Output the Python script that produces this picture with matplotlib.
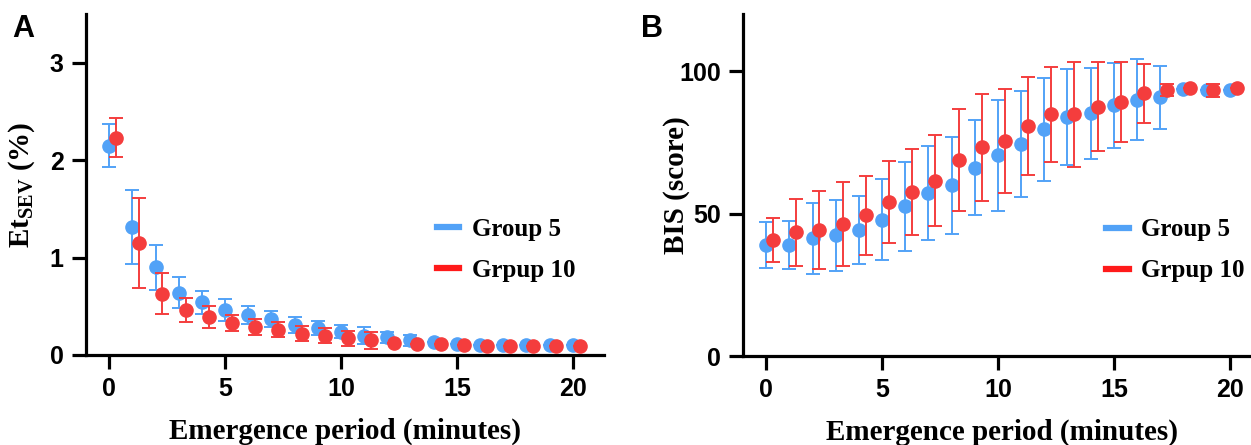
import numpy as np
import matplotlib
matplotlib.use('Agg')
import matplotlib.pyplot as plt
from matplotlib.lines import Line2D

plt.rcParams['mathtext.fontset'] = 'custom'
plt.rcParams['mathtext.rm'] = 'Liberation Serif:bold'
plt.rcParams['mathtext.bf'] = 'Liberation Serif:bold'

# --- data ---
minutes = np.arange(0, 21)

# Panel A: Et_SEV (%) mean and error bounds
et_g5 = [2.15, 1.31, 0.90, 0.64, 0.54, 0.46, 0.41, 0.37, 0.31, 0.28, 0.24,
         0.20, 0.18, 0.15, 0.13, 0.11, 0.10, 0.10, 0.10, 0.10, 0.10]
et_g5_err = [0.22, 0.38, 0.23, 0.16, 0.12, 0.11, 0.09, 0.08, 0.08, 0.07, 0.07,
             0.09, 0.06, 0.06, 0.0, 0.0, 0.0, 0.0, 0.0, 0.0, 0.0]
et_g10 = [2.23, 1.15, 0.63, 0.46, 0.39, 0.33, 0.29, 0.26, 0.22, 0.20, 0.17,
          0.15, 0.12, 0.11, 0.11, 0.10, 0.09, 0.09, 0.09, 0.09, 0.09]
et_g10_err = [0.20, 0.46, 0.21, 0.12, 0.11, 0.08, 0.08, 0.08, 0.08, 0.08, 0.08,
              0.09, 0.0, 0.0, 0.0, 0.0, 0.0, 0.0, 0.0, 0.0, 0.0]

# Panel B: BIS score mean and error bounds
bis_g5 = [39.0, 39.0, 41.3, 42.3, 44.3, 47.8, 52.5, 57.2, 59.9, 66.0, 70.4,
          74.5, 79.5, 83.9, 85.1, 87.9, 90.0, 90.8, 93.8, 93.3, 93.3]
bis_g5_err = [8.0, 8.4, 12.5, 12.4, 12.0, 14.2, 15.5, 16.6, 17.1, 16.7, 19.5,
              18.6, 18.2, 16.9, 16.0, 15.0, 14.1, 11.0, 0.0, 0.0, 0.0]
bis_g10 = [40.7, 43.4, 44.3, 46.3, 49.3, 54.0, 57.5, 61.5, 68.7, 73.2, 75.4,
           80.6, 84.8, 84.8, 87.5, 89.2, 92.2, 93.3, 94.1, 93.3, 94.1]
bis_g10_err = [7.6, 11.7, 13.7, 14.6, 13.9, 14.4, 15.2, 15.9, 17.8, 18.8, 18.2,
               17.2, 16.6, 18.5, 15.6, 14.0, 10.3, 2.1, 0.0, 2.3, 0.0]

labels = ['Group 5', 'Grpup 10']
blue = '#52A2F7'
red = '#F43D3D'
offset = 0.3

fig = plt.figure(figsize=(12.51, 4.45), dpi=100)
ax1 = fig.add_axes([86 / 1251, 1 - 355 / 445, 518 / 1251, 341 / 445])
ax2 = fig.add_axes([743 / 1251, 1 - 356 / 445, 518 / 1251, 342 / 445])

tick_font = dict(family='Liberation Sans', weight='bold', size=18)
label_font = dict(family='Liberation Serif', weight='bold', size=21)


def draw_panel(ax, g5, g5_err, g10, g10_err, leg_x):
    ax.errorbar(minutes, g5, yerr=g5_err, fmt='o', color=blue, ms=9.5,
                elinewidth=1.4, capsize=4.8, capthick=1.4, zorder=3)
    ax.errorbar(minutes + offset, g10, yerr=g10_err, fmt='o', color=red, ms=9.5,
                elinewidth=1.4, capsize=4.8, capthick=1.4, zorder=4)
    for s in ['top', 'right']:
        ax.spines[s].set_visible(False)
    for s in ['left', 'bottom']:
        ax.spines[s].set_linewidth(2.3)
    ax.tick_params(width=2.3, length=10, pad=6)
    ax.set_xlim(-1, 21.35)
    ax.set_xticks([0, 5, 10, 15, 20])
    for lab in ax.get_xticklabels():
        lab.set(**tick_font)
    ax.set_xlabel('Emergence period (minutes)', labelpad=12, **label_font)
    handles = [Line2D([], [], color=blue, lw=4.5), Line2D([], [], color='#FF1A1A', lw=4.5)]
    ax.legend(handles, labels, loc='center left', bbox_to_anchor=(leg_x, 0.309),
              frameon=False, borderpad=0, borderaxespad=0,
              handlelength=0.9, handletextpad=0.5, labelspacing=0.72,
              prop=dict(family='Liberation Serif', weight='bold', size=18))


draw_panel(ax1, et_g5, et_g5_err, et_g10, et_g10_err, 0.677)
ax1.set_ylim(0, 3.5)
ax1.set_yticks([0, 1, 2, 3])
for lab in ax1.get_yticklabels():
    lab.set(**tick_font)
ax1.set_ylabel(r'Et$_{\mathrm{SEV}}$ (%)', **label_font)
ax1.yaxis.set_label_coords(-0.095, 0.5)

draw_panel(ax2, bis_g5, bis_g5_err, bis_g10, bis_g10_err, 0.701)
ax2.set_ylim(0, 120)
ax2.set_yticks([0, 50, 100])
for lab in ax2.get_yticklabels():
    lab.set(**tick_font)
ax2.set_ylabel('BIS (score)', **label_font)
ax2.yaxis.set_label_coords(-0.102, 0.5)

fig.text(12 / 1251, 1 - 37 / 445, 'A', family='Liberation Sans', weight='bold', size=22)
fig.text(641 / 1251, 1 - 37 / 445, 'B', family='Liberation Sans', weight='bold', size=22)

fig.savefig('out.png', dpi=100)
